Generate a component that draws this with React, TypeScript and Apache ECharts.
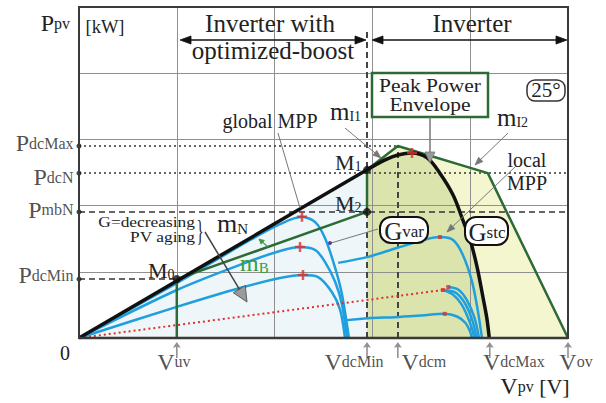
import React, { useEffect, useRef } from 'react';
import * as echarts from 'echarts';

// ---------- data (x: Vpv, y: Ppv, both in relative units 0..100) ----------
const gridTicks = [20, 40, 60, 80];

const vTickSubs = ['uv', 'dcMin', 'dcm', 'dcMax', 'ov'];
const vTickValues = [20, 58.9, 65.2, 84.0, 100];

const pTickSubs = ['dcMax', 'dcN', 'mbN', 'dcMin'];
const pTickValues = [58.0, 49.8, 38.1, 17.8];

const M0 = [20, 17.8];
const M1 = [58.9, 50.8];
const M2 = [58.9, 38.1];

// Gstc (black) curve after M1
const gstcX = [58.9, 62.6, 65.2, 68.1, 71.2, 73.8, 76.5, 78.5, 80.0, 81.4, 82.6, 83.4, 83.9];
const gstcY = [50.8, 53.8, 55.3, 55.9, 54.4, 49.8, 43.2, 35.6, 29.6, 21.5, 12.4, 6.0, 0];

// Peak power envelope
const envX = [58.9, 58.9, 65.2, 83.6, 100];
const envY = [0, 50.8, 58.0, 49.8, 0];

// PV curves (blue)
const aX = [0, 20, 35, 41.1, 45.6, 48.3, 50.3, 52.4, 53.8, 55.2];
const aY = [0, 16.6, 29.6, 34.4, 36.6, 35.0, 30.2, 21.1, 13.0, 0];
const bX = [0, 20, 32.9, 41.1, 45.2, 48.3, 50.3, 52.4, 53.8, 54.8];
const bY = [0, 14.5, 22.1, 26.3, 27.5, 26.6, 23.0, 16.9, 10.0, 0];
const cX = [0, 20, 32.9, 41.1, 45.8, 48.9, 51.7, 53.4, 54.4];
const cY = [0, 9.4, 15.1, 18.1, 19.0, 18.4, 13.9, 8.5, 0];
const gvarX = [53.0, 59.1, 65.0, 71.2, 73.8, 76.5, 78.5, 80.4, 81.6, 82.4];
const gvarY = [22.7, 24.5, 27.2, 29.9, 30.5, 29.6, 25.1, 16.9, 7.9, 0];
const lowX = [54.8, 59.1, 64.6, 70.0, 74.8, 77.3, 79.0, 79.9, 80.4];
const lowY = [5.4, 6.0, 6.3, 6.8, 7.3, 6.5, 4.6, 2.2, 0];
const d1X = [75.5, 77.6, 79.3, 80.9, 81.8];
const d1Y = [15.4, 14.6, 11.5, 6.0, 0];
const d2X = [74.4, 76.9, 78.8, 80.4, 81.3];
const d2Y = [14.5, 13.8, 10.8, 5.5, 0];
const d3X = [74.4, 76.4, 78.3, 79.9, 80.9];
const d3Y = [14.5, 13.2, 10.0, 4.8, 0];

// MPP locus (red dotted)
const mppLineX = [0, 74.4];
const mppLineY = [0, 14.5];

// MPP markers
const mppPlusX = [45.6, 45.2, 45.8, 68.1];
const mppPlusY = [36.6, 27.5, 19.0, 55.9];
const mppDotX = [73.8, 74.8, 74.4, 75.5];
const mppDotY = [30.5, 7.3, 14.5, 15.4];

// ---------- layout / style (not data) ----------
const vLabelDx = [-3, -13, 26, 24, 8];
const pLabelDy = [-3, 4, -2, -4];
const SERIF = "'Liberation Serif', 'DejaVu Serif', serif";
const INK = '#222';
const BLUE = '#1f9fdd';
const GREEN = '#2d6b36';
const RED = '#e0302a';

const zip = (xs: number[], ys: number[]) => xs.map((x, i) => [x, ys[i]]);

const curve = (data: number[][], color: string, width: number, z: number, extra: any = {}) => ({
  type: 'line', data, symbol: 'none', smooth: 0.3, silent: true, z,
  lineStyle: { color, width }, ...extra,
});

const fill = (data: number[][], color: string) => ({
  type: 'line', data, symbol: 'none', smooth: false, silent: true, z: 1,
  lineStyle: { width: 0, opacity: 0 }, areaStyle: { color, opacity: 1 },
});

const T = (x: number, y: number, text: string, fontSize: number, extra: any = {}) => ({
  type: 'text', x, y, z: 100, silent: true,
  style: {
    text, fontSize, fontFamily: SERIF, fill: INK,
    align: 'center', verticalAlign: 'middle', textAlign: 'center', textVerticalAlign: 'middle',
    ...extra,
  },
});

const rt = (size: number, lh: number, color = INK, padBottom = 0) => ({
  fontSize: size, fontFamily: SERIF, fill: color, color, lineHeight: lh, verticalAlign: 'bottom',
  padding: [0, 0, padBottom, 0],
});

// big letter + same-baseline smaller letters
const bigSmall = { a: rt(24, 24), b: rt(16, 16, INK, 4), c: rt(22, 22, INK, 1) };

function arrow(x1: number, y1: number, x2: number, y2: number, o: any = {}) {
  const color = o.color || '#666';
  const lw = o.lw || 1;
  const head = o.head || 8;
  const hw = o.hw || 3.5;
  const dx = x2 - x1, dy = y2 - y1;
  const L = Math.hypot(dx, dy);
  const ux = dx / L, uy = dy / L;
  const px = -uy, py = ux;
  const headAt = (xe: number, ye: number, vx: number, vy: number) => ({
    type: 'polygon', z: 101, silent: true,
    shape: {
      points: [
        [xe, ye],
        [xe - vx * head + px * hw, ye - vy * head + py * hw],
        [xe - vx * head - px * hw, ye - vy * head - py * hw],
      ],
    },
    style: { fill: o.fill || color, stroke: color, lineWidth: 0.8 },
  });
  const els: any[] = [
    {
      type: 'line', z: 100, silent: true,
      shape: {
        x1: o.both ? x1 + ux * head * 0.8 : x1,
        y1: o.both ? y1 + uy * head * 0.8 : y1,
        x2: x2 - ux * head * 0.8,
        y2: y2 - uy * head * 0.8,
      },
      style: { stroke: color, lineWidth: lw },
    },
    headAt(x2, y2, ux, uy),
  ];
  if (o.both) els.push(headAt(x1, y1, -ux, -uy));
  return els;
}

const seg = (x1: number, y1: number, x2: number, y2: number, color: string, lw: number) => ({
  type: 'line', z: 100, silent: true, shape: { x1, y1, x2, y2 }, style: { stroke: color, lineWidth: lw },
});

function buildOption() {
  const gridLines: any[] = [];
  gridTicks.forEach((v) => {
    gridLines.push([{ coord: [v, 0] }, { coord: [v, 100] }]);
    gridLines.push([{ coord: [0, v] }, { coord: [100, v] }]);
  });

  const refLine = (a: number[], b: number[], type: any, width = 1.5, color = '#333') => [
    { coord: a, lineStyle: { type, width, color } },
    { coord: b },
  ];

  const refLines = [
    refLine([0, pTickValues[0]], [vTickValues[2], pTickValues[0]], [2, 3]),
    refLine([0, pTickValues[1]], [100, pTickValues[1]], [2, 3]),
    refLine([0, pTickValues[2]], [100, pTickValues[2]], [6, 4]),
    refLine([0, pTickValues[3]], [vTickValues[0], pTickValues[3]], [6, 4]),
    refLine([vTickValues[1], 0], [vTickValues[1], 93], [6, 4], 2, '#444'),
    refLine([vTickValues[2], 0], [vTickValues[2], pTickValues[0]], [6, 4], 2, '#444'),
  ];

  const series: any[] = [
    fill([[0, 0], M1, [M1[0], 0]], '#eef6f9'),
    fill(zip(envX, envY), '#f4f6cf'),
    fill([[M1[0], 0], ...zip(gstcX, gstcY)], '#dbe4ad'),
    {
      type: 'line', data: [[0, 0]], symbol: 'none', silent: true, z: 2,
      lineStyle: { width: 0 },
      markLine: {
        silent: true, z: 2, symbol: ['none', 'none'], animation: false,
        label: { show: false },
        lineStyle: { color: '#8f8f8f', width: 1, type: 'solid' },
        data: gridLines,
      },
    },
    {
      type: 'line', data: [[0, 0]], symbol: 'none', silent: true, z: 3,
      lineStyle: { width: 0 },
      markLine: {
        silent: true, z: 3, symbol: ['none', 'none'], animation: false,
        label: { show: false },
        data: refLines,
      },
    },
    curve(zip(aX, aY), BLUE, 2.5, 4),
    curve(zip(bX, bY), BLUE, 2.5, 4),
    curve(zip(cX, cY), BLUE, 2.5, 4),
    curve(zip(gvarX, gvarY), BLUE, 2.5, 4),
    curve(zip(lowX, lowY), BLUE, 2.5, 4),
    curve(zip(d1X, d1Y), BLUE, 2.5, 4),
    curve(zip(d2X, d2Y), BLUE, 2.5, 4),
    curve(zip(d3X, d3Y), BLUE, 2.5, 4),
    curve(zip(mppLineX, mppLineY), RED, 2, 5, { smooth: false, lineStyle: { color: RED, width: 2, type: [2, 3] } }),
    curve([[vTickValues[0], 0], M0], GREEN, 2.5, 5, { smooth: false }),
    curve([M0, M2], GREEN, 2.5, 5, { smooth: false }),
    curve([M2, M1], GREEN, 2.5, 5, { smooth: false }),
    curve(zip(envX, envY).slice(1), GREEN, 2.5, 5, { smooth: false }),
    curve([[0, 0], M1], '#111', 3.5, 6, { smooth: false }),
    curve(zip(gstcX, gstcY), '#111', 3.5, 6, { smooth: 0.35 }),
    {
      type: 'scatter', data: zip(mppPlusX, mppPlusY), silent: true, z: 7,
      symbol: 'path://M3,0H5V3H8V5H5V8H3V5H0V3H3Z', symbolSize: 10,
      itemStyle: { color: RED },
    },
    {
      type: 'scatter', data: zip(mppDotX, mppDotY), silent: true, z: 7,
      symbol: 'rect', symbolSize: 4, itemStyle: { color: RED },
    },
    {
      type: 'scatter', data: [M0, M1, M2], silent: true, z: 8,
      symbol: 'circle', symbolSize: 8, itemStyle: { color: '#111' },
    },
    {
      type: 'scatter', silent: true, z: 8,
      data: pTickValues.map((v, i) => ({ value: [0, v], name: pTickSubs[i] })),
      symbol: 'circle', symbolSize: 5, itemStyle: { color: '#111' },
      label: {
        show: true,
        position: [-3, 2.5] as any,
        align: 'right', verticalAlign: 'middle',
        formatter: (p: any) => `{a|P}{b|${p.name}}`,
        rich: bigSmall,
      },
      labelLayout: (p: any) => ({ dy: pLabelDy[p.dataIndex] }),
    },
    {
      type: 'scatter', silent: true, z: 8,
      data: vTickValues.map((v) => [v, 0]),
      symbol: 'path://M5,0L10,8L6,7L6,22L4,22L4,7L0,8Z', symbolSize: [8, 16], symbolOffset: [0, 12],
      itemStyle: { color: '#777' },
    },
    {
      type: 'scatter', silent: true, z: 9,
      data: vTickValues.map((v, i) => ({ value: [v, 0], name: vTickSubs[i] })),
      symbol: 'circle', symbolSize: 1, itemStyle: { color: 'rgba(0,0,0,0)' },
      label: {
        show: true,
        position: [0.5, 24] as any,
        align: 'center', verticalAlign: 'middle',
        formatter: (p: any) => `{a|V}{b|${p.name}}`,
        rich: bigSmall,
      },
      labelLayout: (p: any) => ({ dx: vLabelDx[p.dataIndex] }),
    },
  ];

  const sub = (x: number, y: number, main: string, s: string, mSize: number, sSize: number, sLh: number, color = INK) =>
    T(x, y, `{m|${main}}{s|${s}}`, mSize, {
      align: 'left', textAlign: 'left', fill: color,
      rich: { m: rt(mSize, mSize + 2, color), s: rt(sSize, sLh, color) },
    });

  const graphic: any[] = [
    // header
    T(270, 23, 'Inverter with', 25),
    T(273, 50, 'optimized-boost', 25),
    T(472, 23, 'Inverter', 25),
    ...arrow(180, 40, 366, 40, { color: '#111', lw: 1.5, head: 11, hw: 4, both: true }),
    ...arrow(372, 40, 567, 40, { color: '#111', lw: 1.5, head: 11, hw: 4, both: true }),
    // axis titles
    T(70, 23, '{a|P}{b|pv}', 24, { align: 'right', textAlign: 'right', rich: bigSmall }),
    T(105, 27, '[kW]', 18.5),
    T(65, 353, '0', 20),
    T(535, 386, '{a|V}{b|pv}{c| [V]}', 24, { rich: bigSmall }),
    // Peak power envelope box
    {
      type: 'rect', z: 100, silent: true, shape: { x: 372, y: 73, width: 116, height: 44 },
      style: { fill: '#fff', stroke: GREEN, lineWidth: 2.5 },
    },
    { ...T(430, 95, 'Peak Power\nEnvelope', 19, { lineHeight: 19 }), scaleX: 1.13, originX: 0, originY: 0 },
    ...arrow(430, 117, 430, 163, { color: '#777', lw: 1.5, head: 11, hw: 5, fill: '#9a9a9a' }),
    // 25° box
    {
      type: 'rect', z: 100, silent: true, shape: { x: 527, y: 80, width: 38, height: 21, r: 8 },
      style: { fill: '#fff', stroke: '#333', lineWidth: 1.5 },
    },
    T(546, 90, '25°', 21),
    // m labels
    sub(330, 110, 'm', 'I1', 25, 14, 2),
    ...arrow(345, 128, 381, 158, { color: '#777', lw: 1, head: 8, hw: 3 }),
    sub(497, 116, 'm', 'I2', 25, 14, 2),
    ...arrow(508, 133, 475, 165, { color: '#777', lw: 1, head: 8, hw: 3 }),
    T(527, 171, 'local\nMPP', 20, { lineHeight: 23 }),
    ...arrow(516, 166, 447, 232, { color: '#777', lw: 1, head: 8, hw: 3 }),
    T(270, 121, 'global MPP', 20),
    seg(278, 133, 300, 208, '#777', 1),
    // M labels
    sub(335, 161, 'M', '1', 22, 14, 12),
    sub(335, 202, 'M', '2', 22, 14, 12),
    sub(148, 269, 'M', '0', 22, 14, 12),
    sub(217, 222, 'm', 'N', 26, 15, 4),
    sub(240, 262, 'm', 'B', 24, 15, 4, '#3a9a43'),
    ...arrow(268, 247, 259, 239, { color: '#3a9a43', lw: 1.2, head: 5, hw: 2.5 }),
    // G = decreasing
    { ...T(195, 230, 'G=decreasing\nPV aging', 14.5, { align: 'right', textAlign: 'right', lineHeight: 15 }), scaleX: 1.2, originX: 0, originY: 0 },
    { ...T(200, 230, '}', 30), scaleX: 0.5, originX: 0, originY: 0 },
    ...arrow(205, 232, 247, 302, { color: '#444', lw: 1.5, head: 15, hw: 7, fill: '#9a9a9a' }),
    // Gvar / Gstc boxes
    seg(378, 229, 331, 243, '#777', 1),
    { type: 'circle', z: 101, silent: true, shape: { cx: 330, cy: 243, r: 2 }, style: { fill: '#5b3fa0' } },
    {
      type: 'rect', z: 100, silent: true, shape: { x: 380, y: 217, width: 48, height: 26, r: 11 },
      style: { fill: '#fff', stroke: '#111', lineWidth: 2 },
    },
    T(404, 231, '{a|G}{b|var}', 25, { rich: { a: rt(25, 25), b: rt(17, 17, INK, 4) } }),
    {
      type: 'rect', z: 100, silent: true, shape: { x: 465, y: 217, width: 43, height: 28, r: 11 },
      style: { fill: '#fff', stroke: '#111', lineWidth: 2 },
    },
    T(487, 232, '{a|G}{b|stc}', 25, { rich: { a: rt(25, 25), b: rt(17, 17, INK, 4) } }),
    // frame
    {
      type: 'rect', z: 102, silent: true, shape: { x: 79, y: 7, width: 489, height: 331 },
      style: { fill: 'none', stroke: '#3a3a3a', lineWidth: 2 },
    },
    seg(79, 338, 568, 338, '#333', 2.5),
  ];

  return {
    animation: false,
    backgroundColor: '#fff',
    grid: { left: 79, top: 7, width: 489, height: 331 },
    xAxis: { type: 'value', min: 0, max: 100, show: false },
    yAxis: { type: 'value', min: 0, max: 100, show: false },
    series,
    graphic,
  };
}

export default function App() {
  const ref = useRef<HTMLDivElement>(null);
  useEffect(() => {
    const chart = echarts.init(ref.current!, null, { renderer: 'svg' });
    chart.setOption(buildOption() as any);
    return () => chart.dispose();
  }, []);
  return (
    <div
      ref={ref}
      style={{ position: 'fixed', left: 0, top: 0, width: 606, height: 403, background: '#fff' }}
    />
  );
}
